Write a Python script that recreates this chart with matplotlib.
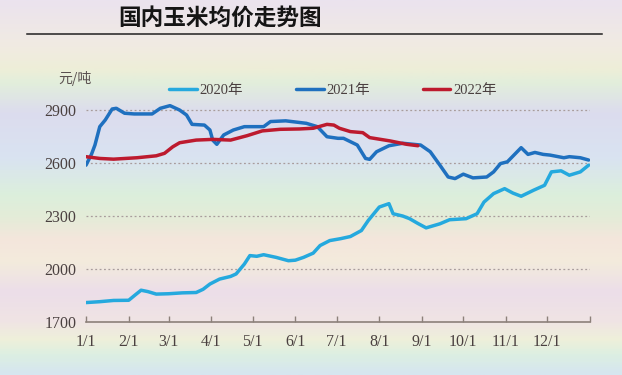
import numpy as np
import matplotlib
matplotlib.use("Agg")
import matplotlib.pyplot as plt
from matplotlib.colors import LinearSegmentedColormap
from matplotlib.lines import Line2D

plt.rcParams['font.family'] = ['Liberation Serif', 'Noto Sans CJK SC']

# ---- data (day of year, price yuan/t) ----
d2020 = [0, 10, 20, 31, 36, 40, 45, 51, 60, 70, 80, 85, 90, 97, 105, 109, 115, 119, 124,
         129, 138, 147, 152, 158, 165, 170, 177, 185, 192, 200, 205, 213, 220, 223, 230,
         235, 241, 247, 257, 264, 276, 284, 289, 296, 304, 310, 316, 325, 333, 338, 345,
         351, 359, 365]
p2020 = [1810, 1815, 1822, 1823, 1855, 1880, 1872, 1858, 1860, 1865, 1867, 1885, 1915,
         1943, 1958, 1972, 2028, 2076, 2072, 2081, 2066, 2047, 2050, 2066, 2090, 2133,
         2161, 2172, 2184, 2218, 2275, 2351, 2370, 2313, 2300, 2285, 2258, 2233, 2256,
         2279, 2285, 2313, 2379, 2427, 2455, 2430, 2412, 2446, 2474, 2550, 2556, 2531,
         2550, 2588]

d2021 = [0, 4, 6.5, 10, 14, 19, 22, 28, 35, 48, 54, 61, 68, 73, 77, 86, 90, 92, 95, 100,
         107, 115, 129, 134, 145, 160, 168, 175, 183, 187, 197, 203, 206, 211, 220, 230,
         243, 250, 257, 263, 268, 274, 281, 291, 296, 301, 306, 316, 321, 326, 332, 337,
         347, 351, 359, 365]
p2021 = [2588, 2650, 2702, 2806, 2844, 2906, 2910, 2882, 2878, 2878, 2910, 2925, 2900,
         2872, 2819, 2815, 2787, 2730, 2706, 2759, 2787, 2806, 2806, 2835, 2839, 2825,
         2806, 2749, 2740, 2740, 2702, 2626, 2621, 2664, 2698, 2712, 2702, 2664, 2588,
         2521, 2512, 2537, 2516, 2521, 2550, 2597, 2607, 2687, 2649, 2660, 2649, 2645,
         2630, 2636, 2630, 2617]

d2022 = [0, 10, 20, 37, 51, 57, 63, 68, 80, 92, 105, 117, 128, 141, 155, 165, 175, 180,
         184, 192, 201, 206, 221, 233, 241]
p2022 = [2636, 2626, 2622, 2630, 2641, 2655, 2692, 2715, 2730, 2734, 2730, 2755, 2782,
         2791, 2793, 2797, 2819, 2815, 2797, 2778, 2772, 2744, 2725, 2706, 2698]

month_days = [0, 31, 60, 91, 121, 152, 182, 213, 244, 274, 305, 335, 366]
month_labels = ['1/1', '2/1', '3/1', '4/1', '5/1', '6/1', '7/1', '8/1', '9/1',
                '10/1', '11/1', '12/1', '']
y_ticks = [1700, 2000, 2300, 2600, 2900]

fig = plt.figure(figsize=(6.22, 3.75), dpi=100)

# pastel background
bg = fig.add_axes([0, 0, 1, 1], zorder=-10)
stops = [(0.0, '#ebe3ee'), (0.12, '#f1ebe2'), (0.18, '#eeeed8'), (0.22, '#e2eedc'),
         (0.30, '#dcdcee'), (0.42, '#d9e3f1'), (0.52, '#dcefdc'), (0.58, '#e4ecd8'),
         (0.64, '#f4e6dc'), (0.70, '#f3ebdc'), (0.78, '#ecdee9'), (0.86, '#f0e4e4'),
         (0.91, '#eef0da'), (0.95, '#dcefe2'), (1.0, '#d6e6f0')]
cmap = LinearSegmentedColormap.from_list('bg', stops)
grad = np.linspace(0, 1, 200).reshape(-1, 1)
bg.imshow(grad, cmap=cmap, aspect='auto', extent=[0, 1, 0, 1], origin='upper')
bg.axis('off')

ax = fig.add_axes([86 / 622, 1 - 322 / 375, 504 / 622, 229.6 / 375])
ax.patch.set_alpha(0)

ax.plot(d2020, p2020, color='#25a9de', lw=2.5, label='2020年', solid_capstyle='round')
ax.plot(d2021, p2021, color='#1f70bf', lw=2.5, label='2021年', solid_capstyle='round')
ax.plot(d2022, p2022, color='#bd1a2e', lw=2.5, label='2022年', solid_capstyle='round')

ax.set_xlim(0, 366)
ax.set_ylim(1700, 3000)
ax.set_yticks(y_ticks)
ax.set_xticks(month_days)
ax.set_xticklabels(month_labels)
for v in y_ticks[1:]:
    ax.axhline(v, color='#a89c9c', lw=0.9, ls=(0, (1.5, 2)), zorder=0)

for s in ['top', 'right', 'left']:
    ax.spines[s].set_visible(False)
ax.spines['bottom'].set_color('#8c807a')
ax.spines['bottom'].set_linewidth(1.2)
ax.tick_params(axis='y', length=0, pad=7, labelsize=11.5, labelcolor='#4a4040')
ax.tick_params(axis='x', direction='in', length=4, color='#8c807a', width=1,
               pad=9, labelsize=11.5, labelcolor='#4a4040')

leg = fig.legend(loc='center', bbox_to_anchor=(333 / 622, 1 - 90 / 375), ncol=3,
                 frameon=False, fontsize=10.5, handlelength=1.9, handletextpad=0.2,
                 columnspacing=3.6)
for t in leg.get_texts():
    t.set_color('#4a4040')

fig.text(58 / 622, 1 - 79 / 375, '元/吨', fontsize=10, color='#5a5050',
         ha='left', va='center', family=['Noto Sans CJK SC'])
fig.text(118 / 622, 1 - 18 / 375, '国内玉米均价走势图', fontsize=16.3, color='#151515',
         ha='left', va='center', weight='bold', family=['Noto Sans CJK SC'])
fig.add_artist(Line2D([27 / 622, 602 / 622], [1 - 34 / 375, 1 - 34 / 375],
                      color='#202020', lw=1.1))

fig.savefig('out.png', dpi=100)
